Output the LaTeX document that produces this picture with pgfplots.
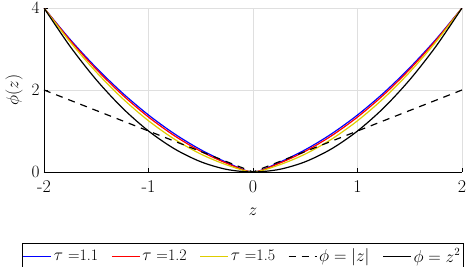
\documentclass[border=0pt]{standalone}
\usepackage{pgfplots}
\pgfplotsset{compat=1.18}
\definecolor{myyellow}{RGB}{222,205,0}
\begin{document}
\begin{tikzpicture}
\begin{axis}[
  name=ax,
  width=418pt, height=164pt, scale only axis,
  xmin=-2, xmax=2, ymin=0, ymax=4,
  xtick={-2,-1,0,1,2}, ytick={0,2,4},
  xticklabels={-2,-1,0,1,2},
  axis lines*=left,
  tick align=inside,
  major tick length=4pt,
  grid=major,
  grid style={gray!25, line width=0.6pt},
  axis line style={line width=0.8pt},
  tick style={black, line width=0.8pt},
  ticklabel style={font=\fontsize{18}{20}\selectfont},
  xticklabel style={yshift=-5pt},
  yticklabel style={xshift=-1pt},
  xlabel={$z$}, ylabel={$\phi(z)$},
  label style={font=\fontsize{18}{20}\selectfont},
  xlabel style={yshift=-8pt},
  ylabel style={yshift=2pt},
  legend columns=5,
  legend style={at={(0.475,-0.43)}, anchor=north,
    font=\fontsize{16}{17}\selectfont, /tikz/every even column/.append style={column sep=11pt},
    inner xsep=1pt, inner ysep=4pt},
  legend cell align=left,
  legend image code/.code={\draw[#1, line width=1.1pt] (0pt,0pt) -- (28pt,0pt);},
  clip=true,
]
\addplot[blue, line width=1.2pt, smooth] coordinates {
(-2,4) (-1.75,3.233) (-1.5,2.543) (-1.25,1.928) (-1,1.39) (-0.75,0.928) (-0.5,0.543) (-0.25,0.233) (0,0)
(0.25,0.233) (0.5,0.543) (0.75,0.928) (1,1.39) (1.25,1.928) (1.5,2.543) (1.75,3.233) (2,4)};
\addlegendentry{$\tau$ =1.1}
\addplot[red, line width=1.2pt, smooth] coordinates {
(-2,4) (-1.75,3.211) (-1.5,2.505) (-1.25,1.881) (-1,1.34) (-0.75,0.881) (-0.5,0.505) (-0.25,0.211) (0,0)
(0.25,0.211) (0.5,0.505) (0.75,0.881) (1,1.34) (1.25,1.881) (1.5,2.505) (1.75,3.211) (2,4)};
\addlegendentry{$\tau$ =1.2}
\addplot[myyellow, line width=1.2pt, smooth] coordinates {
(-2,4) (-1.75,3.172) (-1.5,2.4375) (-1.25,1.797) (-1,1.25) (-0.75,0.797) (-0.5,0.4375) (-0.25,0.172) (0,0)
(0.25,0.172) (0.5,0.4375) (0.75,0.797) (1,1.25) (1.25,1.797) (1.5,2.4375) (1.75,3.172) (2,4)};
\addlegendentry{$\tau$ =1.5}
\addplot[black, line width=1.2pt, dash pattern=on 7pt off 6pt] coordinates {
(-2,2) (0,0) (2,2)};
\addlegendentry{$\phi=|z|$}
\addplot[black, line width=1.2pt, smooth] coordinates {
(-2,4) (-1.75,3.0625) (-1.5,2.25) (-1.25,1.5625) (-1,1) (-0.75,0.5625) (-0.5,0.25) (-0.25,0.0625) (0,0)
(0.25,0.0625) (0.5,0.25) (0.75,0.5625) (1,1) (1.25,1.5625) (1.5,2.25) (1.75,3.0625) (2,4)};
\addlegendentry{$\phi=z^2$}
\end{axis}
\pgfresetboundingbox
\path ([shift={(-44pt,-95pt)}]ax.south west) rectangle ([shift={(6pt,8pt)}]ax.north east);
\end{tikzpicture}
\end{document}
